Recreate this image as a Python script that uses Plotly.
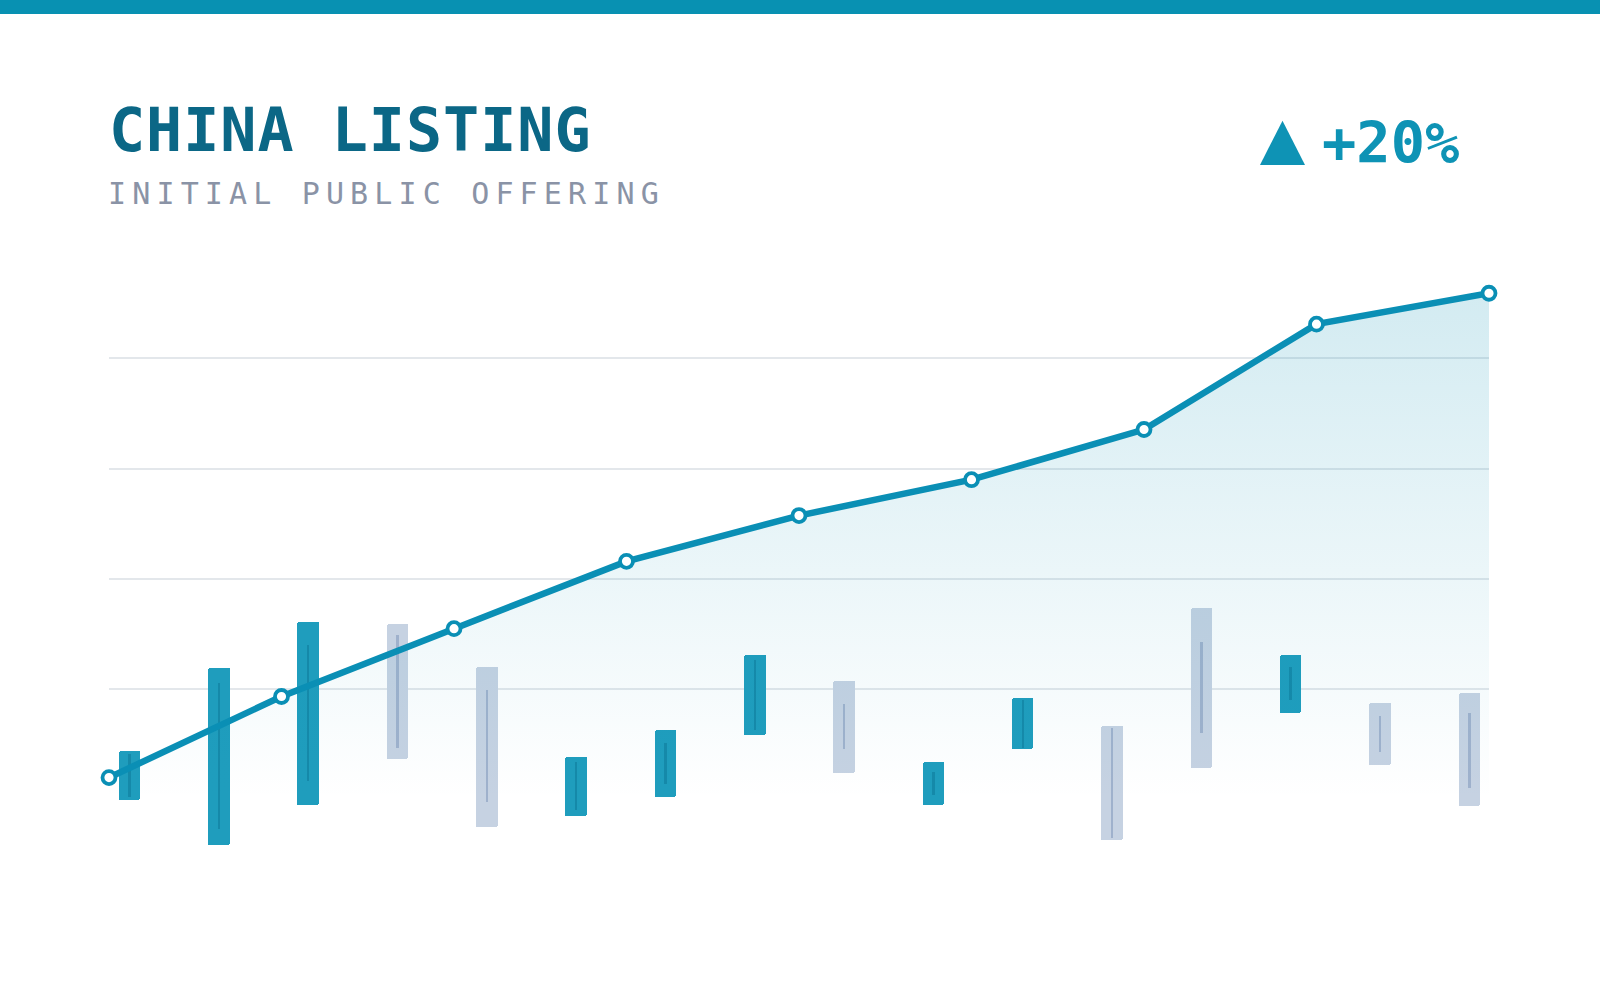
import plotly.graph_objects as go

# ---------------- data ----------------
periods = list(range(9))
listing_index = [4.0, 18.7, 31.0, 43.2, 51.5, 58.0, 67.1, 86.2, 91.8]

candle_idx = list(range(16))
c_high = [8.8, 23.8, 32.2, 31.9, 24.1, 7.8, 12.7, 26.3, 21.6, 6.8, 18.4, 13.3, 34.8, 26.3, 17.5, 19.3]
c_low = [0.0, -8.2, -0.9, 7.4, -4.9, -2.9, 0.5, 11.8, 4.9, -1.0, 9.1, -7.3, 5.7, 15.8, 6.3, -1.2]
c_open = [0.5, -5.4, 3.3, 29.9, 19.9, -1.8, 2.9, 12.7, 17.4, 0.9, 9.4, 13.0, 28.5, 18.0, 15.1, 15.8]
c_close = [8.3, 21.2, 28.1, 9.4, -0.5, 6.9, 10.3, 25.4, 9.1, 5.1, 18.1, -7.0, 12.0, 24.1, 8.7, 2.2]

title_text = "CHINA LISTING"
subtitle_text = "INITIAL PUBLIC OFFERING"
change_text = "+20%"

# ---------------- styling ----------------
W, H = 1600, 1000
L, R, T, B = 109, 111, 248, 90
PW, PH = W - L - R, H - T - B

TEAL = "#0a8fb5"
TEAL_BODY = "#1f9dbd"
TEAL_INNER = "#1589a9"
GRAY_BODY = "#c6d2e2"
GRAY_INNER = "#9fb1cc"


def px_x(px):
    return (px - L) / PW


def px_y(py):
    return (H - B - py) / PH


up = [c >= o for o, c in zip(c_open, c_close)]
body_col = [TEAL_BODY if u else GRAY_BODY for u in up]
inner_col = [TEAL_INNER if u else GRAY_INNER for u in up]

fig = go.Figure()

# candle bodies (high-low range)
fig.add_trace(go.Bar(
    x=candle_idx,
    y=[h - l for h, l in zip(c_high, c_low)],
    base=c_low,
    width=0.24,
    marker=dict(color=body_col, line=dict(width=0), cornerradius=2),
    xaxis="x", yaxis="y", hoverinfo="skip", showlegend=False,
))
# inner open-close line
fig.add_trace(go.Bar(
    x=candle_idx,
    y=[abs(c - o) for o, c in zip(c_open, c_close)],
    base=[min(o, c) for o, c in zip(c_open, c_close)],
    width=0.028,
    marker=dict(color=inner_col, line=dict(width=0)),
    xaxis="x", yaxis="y", hoverinfo="skip", showlegend=False,
))

# listing line with gradient area
fig.add_trace(go.Scatter(
    x=periods,
    y=listing_index,
    mode="lines+markers",
    line=dict(color=TEAL, width=6.5),
    marker=dict(size=13, color="white", line=dict(color=TEAL, width=3.8)),
    fill="tozeroy",
    fillgradient=dict(
        type="vertical",
        colorscale=[[0, "rgba(10,145,180,0.0)"], [1, "rgba(10,145,180,0.18)"]],
    ),
    cliponaxis=False,
    xaxis="x2", yaxis="y", hoverinfo="skip", showlegend=False,
))

fig.update_layout(
    width=W, height=H,
    margin=dict(l=L, r=R, t=T, b=B, pad=0),
    paper_bgcolor="white",
    plot_bgcolor="white",
    barmode="overlay",
    bargap=0,
    xaxis=dict(range=[-0.23, 15.22], visible=False, fixedrange=True),
    xaxis2=dict(range=[0, 8], overlaying="x", visible=False, fixedrange=True),
    yaxis=dict(
        range=[-20, 100],
        tickvals=[20, 40, 60, 80],
        showticklabels=False,
        showgrid=True,
        gridcolor="#e3e7eb",
        gridwidth=1.5,
        zeroline=False,
        showline=False,
        ticks="",
        fixedrange=True,
    ),
    hovermode=False,
    shapes=[
        dict(type="rect", xref="paper", yref="paper",
             x0=px_x(0), x1=px_x(W), y0=px_y(14), y1=px_y(0),
             fillcolor="#0891b2", line=dict(width=0), layer="above"),
        dict(type="path", xref="paper", yref="paper",
             path=f"M {px_x(1260)},{px_y(165)} L {px_x(1282.5)},{px_y(120.7)} L {px_x(1305)},{px_y(165)} Z",
             fillcolor="#0e93b5", line=dict(width=0)),
    ],
    annotations=[
        dict(text=f'<span style="letter-spacing:1px">{title_text}</span>',
             xref="paper", yref="paper", x=px_x(107), y=px_y(130),
             xanchor="left", yanchor="middle", showarrow=False,
             font=dict(family="DejaVu Sans Mono", size=60, color="#0b6786", weight="bold")),
        dict(text=f'<span style="letter-spacing:6.15px">{subtitle_text}</span>',
             xref="paper", yref="paper", x=px_x(106), y=px_y(193),
             xanchor="left", yanchor="middle", showarrow=False,
             font=dict(family="DejaVu Sans Mono", size=30, color="#8a93a6")),
        dict(text=change_text,
             xref="paper", yref="paper", x=px_x(1320), y=px_y(143.5),
             xanchor="left", yanchor="middle", showarrow=False,
             font=dict(family="DejaVu Sans Mono", size=57, color="#0e93b5", weight="bold")),
    ],
)

fig.write_html("out.html", config={"displayModeBar": False})
